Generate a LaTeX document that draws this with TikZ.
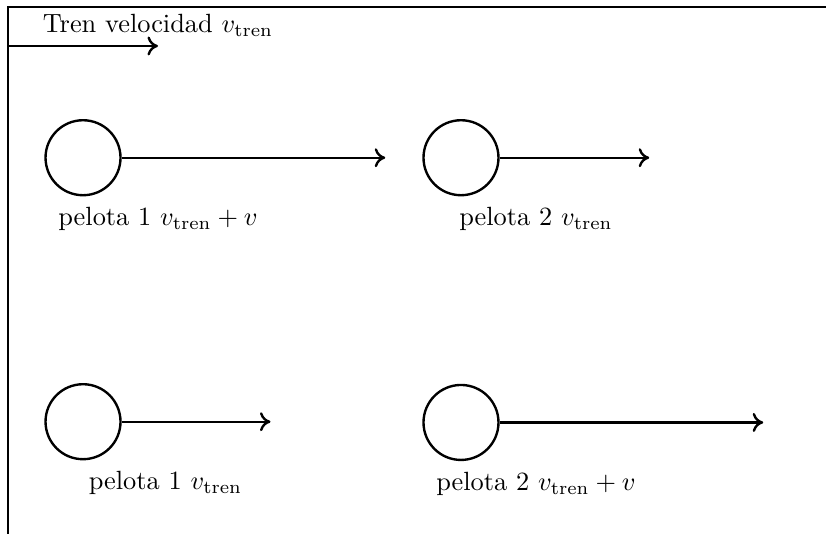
\documentclass[tikz,border=0pt]{standalone}
\usetikzlibrary{arrows.meta, positioning}

\begin{document}
\begin{tikzpicture}[
  ball/.style={draw, circle, minimum size=1cm, inner sep=0pt, line width=0.9pt},
  arr/.style={-{Computer Modern Rightarrow[length=4pt, width=7.2pt]}, line width=0.9pt},
  lbl/.style={inner sep=3pt},
]
\useasboundingbox (-0.107,0.093) rectangle (10.907,-7.027);
% --- frame of the train ---
\draw[line width=0.9pt] (0,-7.2) -- (0,0) -- (11.1,0);

% --- train velocity ---
\coordinate (t0) at (0,-0.52);
\coordinate (t1) at (2,-0.52);
\draw[arr] (t0) -- (t1) node[above] (tl) {Tren velocidad $v_{\mathrm{tren}}$};

% --- upper row ---
\node[ball] (b1t) at (1,-2.01) {};
\node[ball] (b2t) at (6.04,-2.01) {};
\coordinate (e1t) at (5.03,-2.01);
\coordinate (e2t) at (8.55,-2.01);
\draw[arr] (b1t) -- (e1t);
\draw[arr] (b2t) -- (e2t);
\node[lbl, below=1pt of b1t, xshift=1cm]    (l1t) {pelota 1 $v_{\mathrm{tren}}+v$};
\node[lbl, below=1pt of b2t, xshift=1cm]    (l2t) {pelota 2 $v_{\mathrm{tren}}$};

% --- lower row ---
\node[ball] (b1b) at (1,-5.53) {};
\node[ball] (b2b) at (6.04,-5.54) {};
\coordinate (e1b) at (3.5,-5.53);
\coordinate (e2b) at (10.07,-5.54);
\draw[arr] (b1b) -- (e1b);
\draw[arr] (b2b) -- (e2b);
\node[lbl, below=1pt of b1b, xshift=1.1cm]  (l1b) {pelota 1 $v_{\mathrm{tren}}$};
\node[lbl, below=1pt of b2b, xshift=1cm]    (l2b) {pelota 2 $v_{\mathrm{tren}}+v$};
\end{tikzpicture}
\end{document}
